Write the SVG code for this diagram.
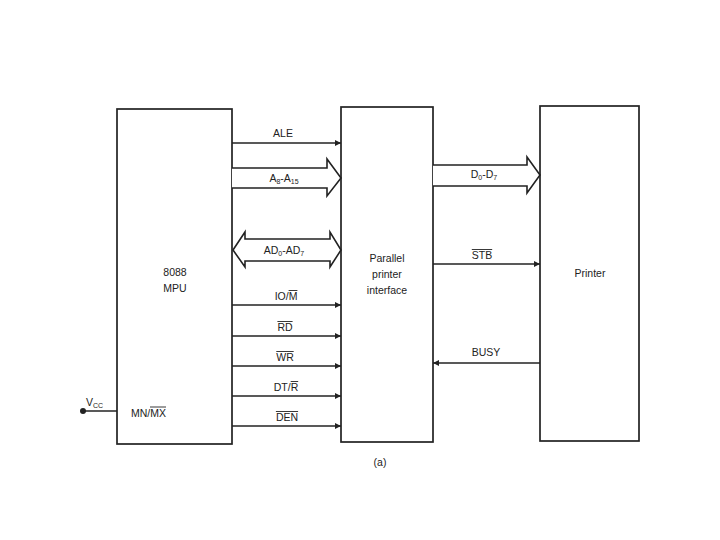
<svg xmlns="http://www.w3.org/2000/svg" width="720" height="540" viewBox="0 0 720 540">
<defs>
<style>
.box{fill:#fff;stroke:#222;stroke-width:1.7}
.ln{fill:none;stroke:#222;stroke-width:1.6}
.bus{fill:#fff;stroke:#222;stroke-width:1.6;stroke-linejoin:miter}
text{font-family:"Liberation Sans",Arial,sans-serif;font-size:10.5px;fill:#222}
.c{text-anchor:middle}
.ov{stroke:#222;stroke-width:0.9}
</style>
<marker id="ah" viewBox="0 0 10 10" refX="10" refY="5" markerWidth="8" markerHeight="6" markerUnits="userSpaceOnUse" orient="auto"><path d="M0,0 L10,5 L0,10 z" fill="#222"/></marker>
</defs>
<rect width="720" height="540" fill="#fff"/>
<g id="mpu"><rect class="box" x="117" y="109" width="115" height="335"/><text class="c" x="175" y="276">8088</text><text class="c" x="175" y="292">MPU</text><text x="131" y="417">MN/MX</text><line class="ov" x1="150" y1="407" x2="166" y2="407"/></g>
<g id="interface"><rect class="box" x="341" y="107" width="92" height="335"/><text class="c" x="387" y="262">Parallel</text><text class="c" x="387" y="278">printer</text><text class="c" x="387" y="294">interface</text></g>
<g id="printer"><rect class="box" x="540" y="106" width="99" height="335"/><text class="c" x="590" y="277">Printer</text></g>
<g id="vcc"><circle cx="83" cy="411" r="3" fill="#222"/><text x="86" y="406">V<tspan font-size="7" dy="2">CC</tspan></text></g>
<g id="connectors">
<line class="ln" x1="83" y1="411" x2="117" y2="411"/>
<line class="ln" x1="232" y1="143" x2="341" y2="143" marker-end="url(#ah)"/>
<text class="c" x="283" y="137">ALE</text>
<path class="bus" d="M232,168 L327,168 L327,159 L341,178 L327,196 L327,188 L232,188"/>
<text class="c" x="284" y="182">A<tspan font-size="7" dy="2">8</tspan><tspan dy="-2">-A</tspan><tspan font-size="7" dy="2">15</tspan></text>
<path class="bus" d="M233,250 L245,232 L245,239 L330,239 L330,232 L341,250 L330,267 L330,261 L245,261 L245,267 Z"/>
<text class="c" x="284" y="254">AD<tspan font-size="7" dy="2">0</tspan><tspan dy="-2">-AD</tspan><tspan font-size="7" dy="2">7</tspan></text>
<line class="ln" x1="232" y1="305" x2="341" y2="305" marker-end="url(#ah)"/>
<text class="c" x="286" y="300">IO/M</text><line class="ov" x1="288.6" y1="290.5" x2="297.4" y2="290.5"/>
<line class="ln" x1="232" y1="336" x2="341" y2="336" marker-end="url(#ah)"/>
<text class="c" x="285" y="331">RD</text><line class="ov" x1="277.4" y1="321.5" x2="292.6" y2="321.5"/>
<line class="ln" x1="232" y1="366" x2="341" y2="366" marker-end="url(#ah)"/>
<text class="c" x="285" y="361">WR</text><line class="ov" x1="276.3" y1="351.5" x2="293.7" y2="351.5"/>
<line class="ln" x1="232" y1="396" x2="341" y2="396" marker-end="url(#ah)"/>
<text class="c" x="286" y="391">DT/R</text><line class="ov" x1="290.7" y1="381.5" x2="298.2" y2="381.5"/>
<line class="ln" x1="232" y1="426" x2="341" y2="426" marker-end="url(#ah)"/>
<text class="c" x="287" y="421">DEN</text><line class="ov" x1="275.9" y1="411.5" x2="298.1" y2="411.5"/>
<path class="bus" d="M433,165 L527,165 L527,157 L540,175 L527,193 L527,186 L433,186"/>
<text class="c" x="484" y="178">D<tspan font-size="7" dy="2">0</tspan><tspan dy="-2">-D</tspan><tspan font-size="7" dy="2">7</tspan></text>
<line class="ln" x1="433" y1="264" x2="540" y2="264" marker-end="url(#ah)"/>
<text class="c" x="482" y="259">STB</text><line class="ov" x1="471.8" y1="249.5" x2="492.2" y2="249.5"/>
<line class="ln" x1="540" y1="363" x2="433" y2="363" marker-end="url(#ah)"/>
<text class="c" x="486" y="356">BUSY</text>
</g>
<text class="c" x="380" y="466">(a)</text>
</svg>
